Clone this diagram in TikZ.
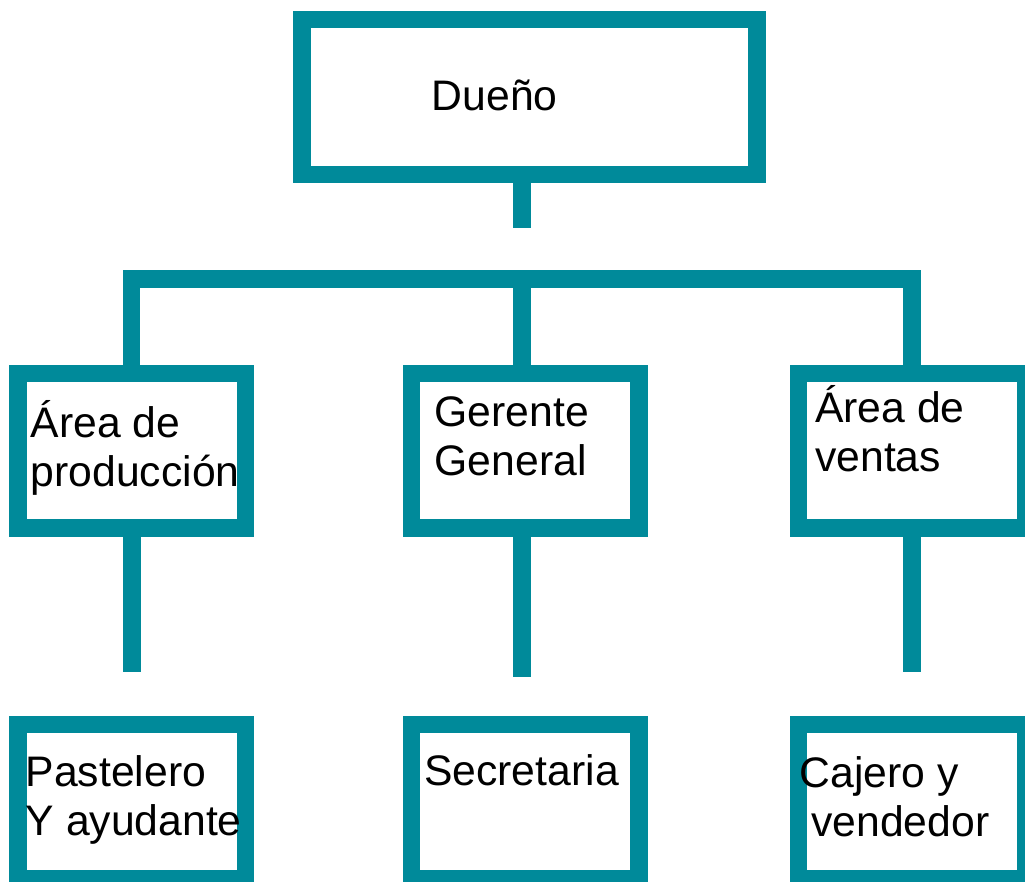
\documentclass[tikz,border=0pt]{standalone}
\usepackage{fontspec}
\setmainfont{Liberation Sans}
\definecolor{orgteal}{RGB}{0,138,154}

\begin{document}
\begin{tikzpicture}[
  x=1pt,y=-1pt,
  unit/.style={draw=orgteal,line width=17.4pt,minimum width=227.6pt,minimum height=154.6pt,inner sep=0pt},
  link/.style={draw=orgteal,line width=17.4pt},
  txt/.style={anchor=base west,align=left,inner sep=0pt,font=\fontsize{42.7}{49}\selectfont}
]
\clip (0,0) rectangle (1025,881);
\node[unit,minimum width=455pt] (dueno) at (529.5,97) {};
\node[unit] (prod) at (131.7,450.5) {};
\node[unit] (gerente) at (525.2,450.5) {};
\node[unit] (ventas) at (912,450.5) {};
\node[unit,minimum height=154.2pt] (pastelero) at (131.7,801.5) {};
\node[unit,minimum height=154.2pt] (secretaria) at (525.2,801.5) {};
\node[unit,minimum height=154.2pt] (cajero) at (912,801.5) {};

\coordinate (top) at (522,228);
\coordinate (bar) at (522,279);
\draw[link] (dueno.south -| top) -- (top);
\draw[link] (prod.north) |- (bar) -| (ventas.north);
\draw[link] (bar) -- (gerente.north -| bar);
\foreach \b/\x/\y in {prod/132/672,gerente/522/677,ventas/912/672}{
  \coordinate (\b-end) at (\x,\y);
  \draw[link] (\b.south -| \b-end) -- (\b-end);
}

\node[txt] (dueno-t) at (431.5,110) {Dueño};
\node[txt] (prod-t) at (30.5,486) {Área de\\producción};
\node[txt] (gerente-t) at (434.5,475) {Gerente\\General};
\node[txt] (ventas-t) at (815,471) {Área de\\ventas};
\node[txt] (pastelero-t) at (25.5,835) {Pastelero\\Y ayudante};
\node[txt] (secretaria-t) at (424,785) {Secretaria};
\node[txt] (cajero-t) at (799.5,836) {Cajero y\\\hspace*{11.6pt}vendedor};
\end{tikzpicture}
\end{document}
